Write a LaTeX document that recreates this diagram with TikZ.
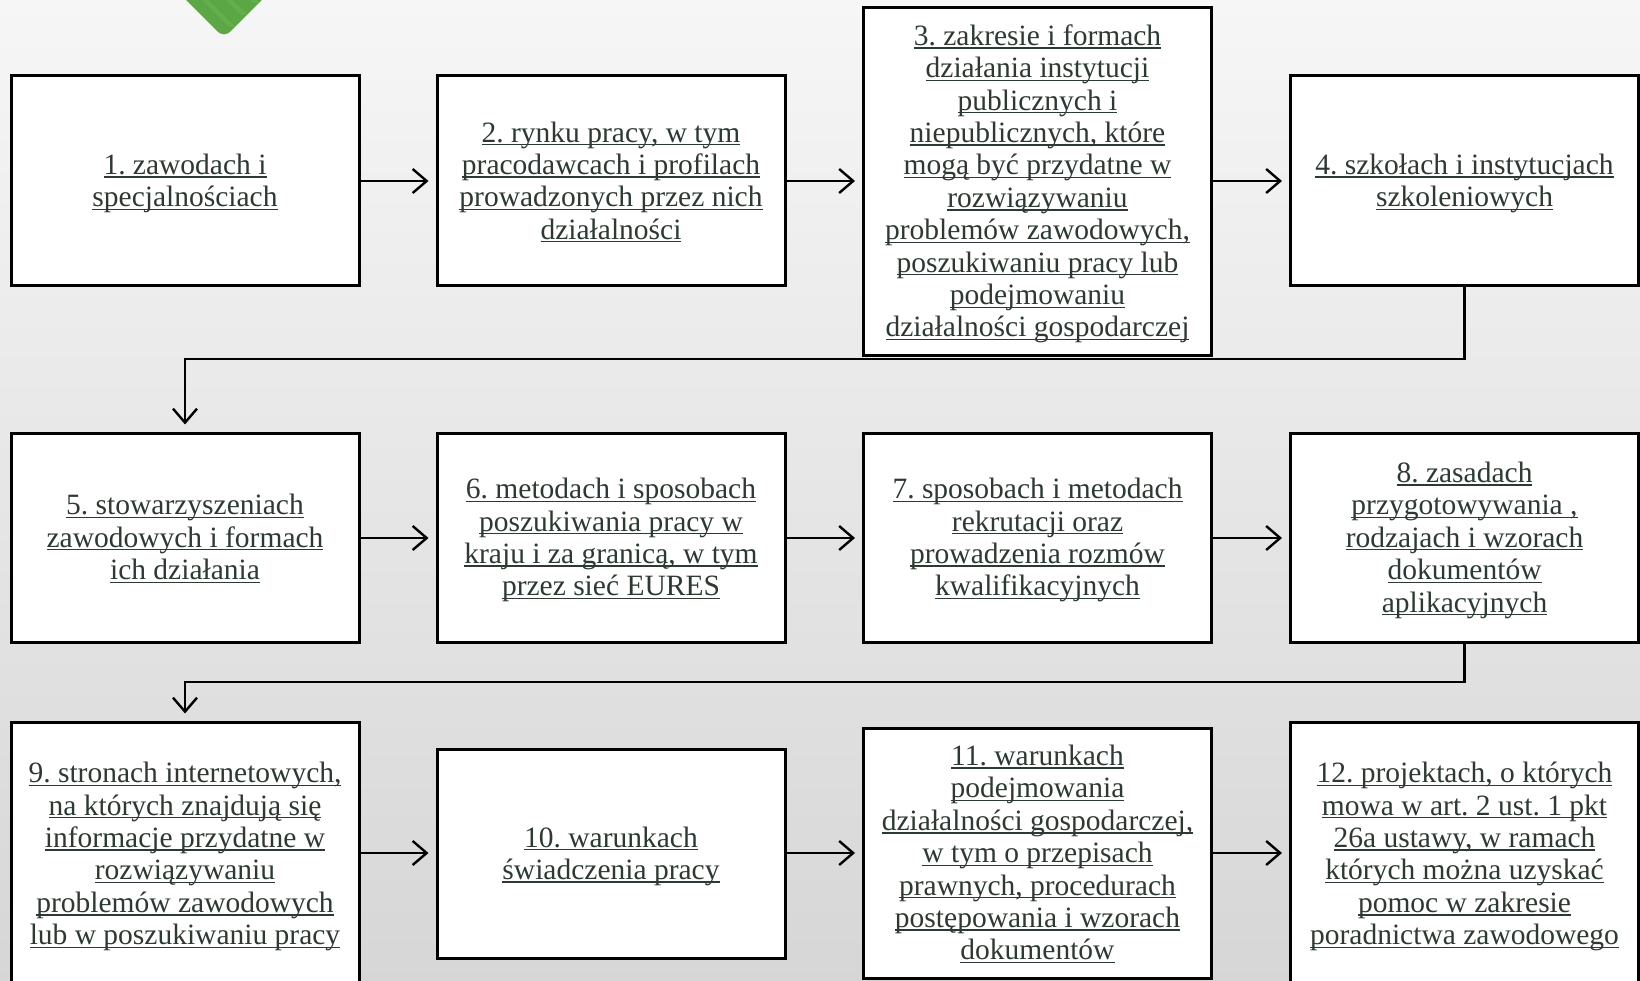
\documentclass[tikz,border=0pt]{standalone}
\usepackage{fontspec}
\setmainfont{Liberation Serif}
\usetikzlibrary{arrows.meta,calc}
\definecolor{txt}{RGB}{44,58,50}
\definecolor{leafgreen}{RGB}{92,167,69}
\definecolor{leafgreen2}{RGB}{112,184,86}
\newcommand\ulx[1]{\setbox0\hbox{#1}\rule[-6.4pt]{0pt}{32.2pt}\rlap{\rule[-3.2pt]{\wd0}{1.3pt}}\box0}
\frenchspacing
\begin{document}
\begin{tikzpicture}[x=1pt,y=-1pt,
  card/.style={draw=black, line width=3pt, fill=white, minimum width=348pt,
    align=center, text=txt, inner sep=0pt,
    font=\frenchspacing\fontsize{29.5}{32.4}\selectfont},
  arr/.style={line width=2.4pt, draw=black,
    -{Straight Barb[length=14pt,width=24pt,line width=2.4pt]}, shorten >=7pt}]
\useasboundingbox (0,0) rectangle (1640,981);
\shade[top color=white!96.5!black, bottom color=white!84!black] (0,0) rectangle (1640,981);
% green leaf corner
\begin{scope}
\clip (0,0) rectangle (1640,981);
\fill[leafgreen, rounded corners=9pt] (224,38) -- (164,-22) -- (224,-82) -- (284,-22) -- cycle;
\clip[rounded corners=9pt] (224,38) -- (164,-22) -- (224,-82) -- (284,-22) -- cycle;
\foreach \d in {-40,-28,-16,-4,8,20,32}{
  \fill[leafgreen2, opacity=0.45] ($(224,38)+(\d,-\d)+(-3,-3)$) -- ++(-70,-70) -- ++(6,0) -- ++(70,70) -- cycle;}
\end{scope}
% row 1
\node[card, minimum height=210pt] (b1) at (185,181) {\ulx{1. zawodach i}\\\ulx{specjalnościach}};
\node[card, minimum height=210pt] (b2) at (611,181) {\ulx{2. rynku pracy, w tym}\\\ulx{pracodawcach i profilach}\\\ulx{prowadzonych przez nich}\\\ulx{działalności}};
\node[card, minimum height=347pt] (b3) at (1037.5,181.5) {\ulx{3. zakresie i formach}\\\ulx{działania instytucji}\\\ulx{publicznych i}\\\ulx{niepublicznych, które}\\\ulx{mogą być przydatne w}\\\ulx{rozwiązywaniu}\\\ulx{problemów zawodowych,}\\\ulx{poszukiwaniu pracy lub}\\\ulx{podejmowaniu}\\\ulx{działalności gospodarczej}};
\node[card, minimum height=210pt] (b4) at (1464.5,181) {\ulx{4. szkołach i instytucjach}\\\ulx{szkoleniowych}};
% row 2
\node[card, minimum height=209pt] (b5) at (185,537.5) {\ulx{5. stowarzyszeniach}\\\ulx{zawodowych i formach}\\\ulx{ich działania}};
\node[card, minimum height=209pt] (b6) at (611,537.5) {\ulx{6. metodach i sposobach}\\\ulx{poszukiwania pracy w}\\\ulx{kraju i za granicą, w tym}\\\ulx{przez sieć EURES}};
\node[card, minimum height=209pt] (b7) at (1037.5,537.5) {\ulx{7. sposobach i metodach}\\\ulx{rekrutacji oraz}\\\ulx{prowadzenia rozmów}\\\ulx{kwalifikacyjnych}};
\node[card, minimum height=209pt] (b8) at (1464.5,537.5) {\ulx{8. zasadach}\\\ulx{przygotowywania ,}\\\ulx{rodzajach i wzorach}\\\ulx{dokumentów}\\\ulx{aplikacyjnych}};
% row 3
\node[card, minimum height=264pt] (b9) at (185,854) {\ulx{9. stronach internetowych,}\\\ulx{na których znajdują się}\\\ulx{informacje przydatne w}\\\ulx{rozwiązywaniu}\\\ulx{problemów zawodowych}\\\ulx{lub w poszukiwaniu pracy}};
\node[card, minimum height=209pt] (b10) at (611,853.5) {\ulx{10. warunkach}\\\ulx{świadczenia pracy}};
\node[card, minimum height=250pt] (b11) at (1037.5,853) {\ulx{11. warunkach}\\\ulx{podejmowania}\\\ulx{działalności gospodarczej,}\\\ulx{w tym o przepisach}\\\ulx{prawnych, procedurach}\\\ulx{postępowania i wzorach}\\\ulx{dokumentów}};
\node[card, minimum height=264pt] (b12) at (1464.5,854) {\ulx{12. projektach, o których}\\\ulx{mowa w art. 2 ust. 1 pkt}\\\ulx{26a ustawy, w ramach}\\\ulx{których można uzyskać}\\\ulx{pomoc w zakresie}\\\ulx{poradnictwa zawodowego}};
% connectors
\coordinate (r1) at (0,181);
\coordinate (r2) at (0,538);
\coordinate (r3) at (0,853);
\draw[arr] (b1.east |- r1) -- (b2.west |- r1);
\draw[arr] (b2.east |- r1) -- (b3.west |- r1);
\draw[arr] (b3.east |- r1) -- (b4.west |- r1);
\draw[arr] (b5.east |- r2) -- (b6.west |- r2);
\draw[arr] (b6.east |- r2) -- (b7.west |- r2);
\draw[arr] (b7.east |- r2) -- (b8.west |- r2);
\draw[arr] (b9.east |- r3) -- (b10.west |- r3);
\draw[arr] (b10.east |- r3) -- (b11.west |- r3);
\draw[arr] (b11.east |- r3) -- (b12.west |- r3);
\coordinate (j1) at (0,359);
\coordinate (j2) at (0,682);
\draw[arr] (b4.south) -- (b4.south |- j1) -| (b5.north);
\draw[arr] (b8.south) -- (b8.south |- j2) -| (b9.north);
\end{tikzpicture}
\end{document}
